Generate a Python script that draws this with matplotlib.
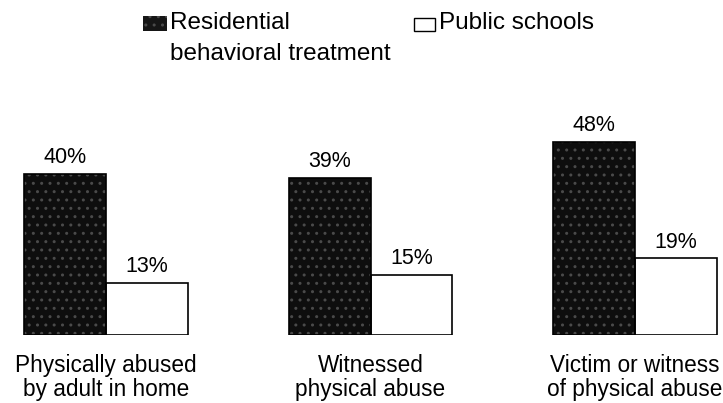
import matplotlib.pyplot as plt
from matplotlib.patches import Rectangle

categories = ["Physically abused\nby adult in home",
              "Witnessed\nphysical abuse",
              "Victim or witness\nof physical abuse"]
residential = [40, 39, 48]
public = [13, 15, 19]
series_names = ["Residential\nbehavioral treatment", "Public schools"]

plt.rcParams["font.family"] = ["Liberation Sans", "DejaVu Sans"]

W, H = 723, 403
fig = plt.figure(figsize=(W / 100, H / 100), dpi=100)

# axes: baseline at 68 px from bottom, groups 264.5 px apart, first at x=106 px
step, x0, base, ppu = 264.5, 106, 68, 4.03
ax = fig.add_axes([0, base / H, 1, (H - base) / H])
ax.set_xlim(-x0 / step, (W - x0) / step)
ax.set_ylim(0, (H - base) / ppu)
ax.axis("off")

w = 82 / step
xs = list(range(len(categories)))
dark = ax.bar([x - w / 2 for x in xs], residential, width=w,
              color="#0e0e0e", edgecolor="#4a4a4a", hatch="..", linewidth=0)
light = ax.bar([x + w / 2 for x in xs], public, width=w,
               color="white", edgecolor="black", linewidth=1.2)
for r in dark:
    ax.add_patch(Rectangle((r.get_x(), 0), r.get_width(), r.get_height(),
                           fill=False, edgecolor="black", linewidth=1.2))

for bars, vals in [(dark, residential), (light, public)]:
    for r, v in zip(bars, vals):
        ax.annotate(f"{v}%", (r.get_x() + r.get_width() / 2, v),
                    xytext=(0, 4), textcoords="offset points",
                    ha="center", va="bottom", fontsize=15.5)

for x, lab in zip(xs, categories):
    ax.annotate(lab, (x, 0), xytext=(0, -14), textcoords="offset points",
                ha="center", va="top", fontsize=16.3, linespacing=1.05)

# legend drawn by hand
fig.patches.append(Rectangle((143 / W, 1 - 31 / H), 24 / W, 15 / H,
                             transform=fig.transFigure, facecolor="#161616",
                             edgecolor="#4a4a4a", hatch="..", linewidth=0))
fig.patches.append(Rectangle((414 / W, 1 - 31 / H), 21 / W, 13 / H,
                             transform=fig.transFigure, facecolor="white",
                             edgecolor="black", linewidth=1))
fig.text(170 / W, 1 - 12 / H, series_names[0], ha="left", va="top",
         fontsize=17.5, linespacing=1.5)
fig.text(439 / W, 1 - 12 / H, series_names[1], ha="left", va="top",
         fontsize=17.5)

fig.savefig("out.png", dpi=100)
